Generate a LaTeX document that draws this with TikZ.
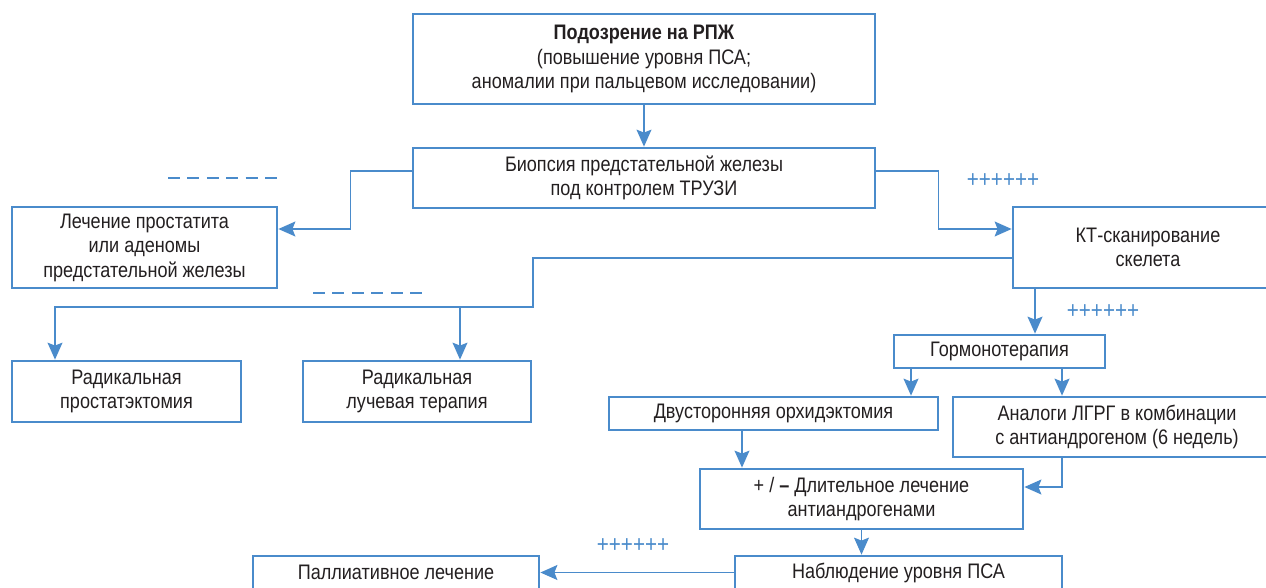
\documentclass[tikz,border=0pt]{standalone}
\usepackage{fontspec}
\setmainfont{Liberation Sans}[FakeStretch=0.86]
\usetikzlibrary{arrows.meta}
\definecolor{blu}{RGB}{74,139,203}
\definecolor{txt}{RGB}{35,31,32}
\tikzset{
  box/.style={draw=blu, line width=2.8pt, fill=white, inner sep=0pt, align=center,
    text=txt, font=\fontsize{21}{24.5}\selectfont},
  conn/.style={draw=blu, line width=1.2pt},
  arr/.style={conn, -{Stealth[length=17pt,width=15pt,inset=3pt]}},
  dashline/.style={draw=blu, line width=2.6pt, dash pattern=on 12pt off 7.4pt},
  plus/.style={text=blu, inner sep=0pt, font=\fontsize{24}{24}\selectfont}
}
\begin{document}
\begin{tikzpicture}[x=1pt,y=1pt]
\useasboundingbox (0,0) rectangle (1266,-587);
\fill[white] (0,0) rectangle (1266,-587);
\clip (0,0) rectangle (1266,-587);

\node[box, minimum width=462pt, minimum height=90pt] (A) at (644,-59)
  {\textbf{Подозрение на РПЖ}\\(повышение уровня ПСА;\\аномалии при пальцевом исследовании)};
\node[box, minimum width=462pt, minimum height=60pt] (B) at (644,-178)
  {Биопсия предстательной железы\\под контролем ТРУЗИ};
\node[box, minimum width=265pt, minimum height=81pt] (C) at (144.5,-247.5)
  {Лечение простатита\\или аденомы\\предстательной железы};
\node[box, minimum width=270pt, minimum height=81pt] (D) at (1148,-247.5)
  {КТ-сканирование\\скелета};
\node[box, minimum width=229pt, minimum height=61pt] (E) at (126.5,-391.5)
  {Радикальная\\простатэктомия};
\node[box, minimum width=228pt, minimum height=61pt] (F) at (417,-391.5)
  {Радикальная\\лучевая терапия};
\node[box, minimum width=211pt, minimum height=33pt] (G) at (999.5,-351.5)
  {Гормонотерапия};
\node[box, minimum width=329pt, minimum height=33pt] (H) at (773.5,-413.5)
  {Двусторонняя орхидэктомия};
\node[box, minimum width=328pt, minimum height=60pt] (I) at (1117,-427)
  {Аналоги ЛГРГ в комбинации\\с антиандрогеном (6 недель)};
\node[box, minimum width=323pt, minimum height=60pt] (J) at (861.5,-499)
  {+ / \textbf{–} Длительное лечение\\антиандрогенами};
\node[box, minimum width=327pt, minimum height=33pt] (K) at (898.5,-572.5)
  {Наблюдение уровня ПСА};
\node[box, minimum width=286pt, minimum height=33pt] (L) at (396,-572.5)
  {Паллиативное лечение};

% dashed marks and plus marks
\draw[dashline] (168,-178) -- (277,-178);
\draw[dashline] (313,-293) -- (422,-293);
\node[plus] (p1) at (1003,-181) {++++++};
\node[plus] (p2) at (1103,-312) {++++++};
\node[plus] (p3) at (633,-546) {++++++};

% connectors
\draw[arr] (A.south) -- (B.north);
\draw[arr] ([yshift=7pt]B.west) -- ++(-61,0) |- ([yshift=18.5pt]C.east);
\draw[arr] ([yshift=7pt]B.east) -- ++(62,0) |- ([yshift=18.5pt]D.west);
\coordinate (jDE) at (533,-307);
\draw[arr] ([yshift=-10.5pt]D.west) -| (jDE) -| ([xshift=-71.5pt]E.north);
\draw[arr] ([xshift=43pt]F.north |- jDE) -- ([xshift=43pt]F.north);
\draw[arr] ([xshift=-113pt]D.south) -- ([xshift=-113pt]D.south |- G.north);
\draw[arr] ([xshift=-88.5pt]G.south) -- ([xshift=-88.5pt]G.south |- H.north);
\draw[arr] ([xshift=62.5pt]G.south) -- ([xshift=62.5pt]G.south |- I.north);
\draw[arr] ([xshift=-31.5pt]H.south) -- ([xshift=-31.5pt]H.south |- J.north);
\draw[arr] ([xshift=-55pt]I.south) |- ([yshift=12pt]J.east);
\draw[arr] (J.south) -- (J.south |- K.north);
\draw[arr] (K.west) -- (L.east);
\end{tikzpicture}
\end{document}
